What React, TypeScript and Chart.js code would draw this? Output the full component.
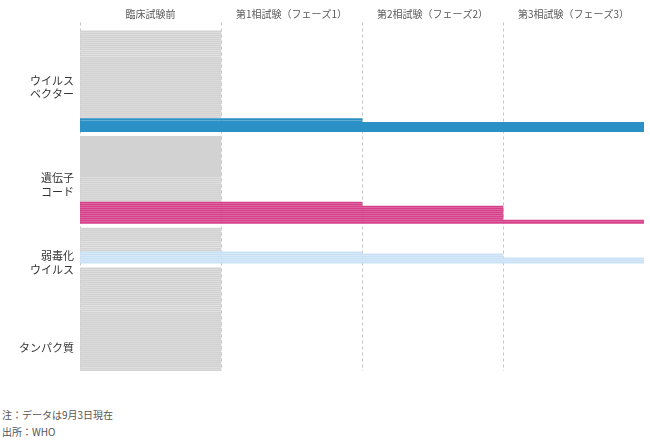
import React, { useEffect, useRef } from "react";
import { Chart, registerables } from "chart.js";

Chart.register(...registerables);

// ---- data ----
const sectionLabels: string[][] = [
  ["ウイルス", "ベクター"],
  ["遺伝子", "コード"],
  ["弱毒化", "ウイルス"],
  ["タンパク質"],
];
const preclinical = [44, 33, 12, 52];
const phase1 = [2, 2, 1, 0];
const phase2 = [0, 7, 2, 0];
const phase3 = [5, 2, 3, 0];
const stageLabels = [
  "臨床試験前",
  "第1相試験（フェーズ1）",
  "第2相試験（フェーズ2）",
  "第3相試験（フェーズ3）",
];
const notes = ["注：データは9月3日現在", "出所：WHO"];

// ---- layout / style ----
const FONT = "'Noto Sans CJK JP', 'Noto Sans', sans-serif";
const GREY = "#d2d2d2";
const sectionColors = ["#2b90c6", "#d6408a", "#c9e1f6", "#2b90c6"];
const TOP_BLANK = 4;
const GAP_ROWS = 2;
const labelRowInSection = [28, 24, 17, 40];

function buildRows() {
  const labels: (string | string[])[] = [];
  const values: (number | null)[] = [];
  const colors: string[] = [];
  const blank = () => {
    labels.push("");
    values.push(null);
    colors.push("rgba(0,0,0,0)");
  };
  for (let i = 0; i < TOP_BLANK; i++) blank();
  sectionLabels.forEach((lab, s) => {
    const start = labels.length;
    const push = (n: number, v: number, c: string) => {
      for (let k = 0; k < n; k++) {
        labels.push("");
        values.push(v);
        colors.push(c);
      }
    };
    push(preclinical[s], 1, GREY);
    push(phase1[s], 2, sectionColors[s]);
    push(phase2[s], 3, sectionColors[s]);
    push(phase3[s], 4, sectionColors[s]);
    labels[start + labelRowInSection[s]] = lab;
    if (s < sectionLabels.length - 1) for (let g = 0; g < GAP_ROWS; g++) blank();
  });
  return { labels, values, colors };
}

export default function App() {
  const ref = useRef<HTMLCanvasElement | null>(null);
  useEffect(() => {
    if (!ref.current) return;
    const { labels, values, colors } = buildRows();
    const chart = new Chart(ref.current, {
      type: "bar",
      data: {
        labels,
        datasets: [
          {
            data: values,
            backgroundColor: colors,
            borderWidth: 0,
            barThickness: 1.3,
            categoryPercentage: 1,
          },
        ],
      },
      options: {
        indexAxis: "y",
        animation: false,
        responsive: true,
        maintainAspectRatio: false,
        layout: { autoPadding: false, padding: { right: 6, bottom: 0.5, left: 0, top: 0 } },
        plugins: { legend: { display: false }, tooltip: { enabled: false } },
        scales: {
          x: {
            type: "linear",
            position: "top",
            min: 0,
            max: 4,
            afterBuildTicks: (s: any) => {
              s.ticks = [0.5, 1.5, 2.5, 3.5].map((value) => ({ value }));
            },
            afterFit: (s: any) => {
              s.height = 22.5;
            },
            ticks: {
              autoSkip: false,
              maxRotation: 0,
              padding: 2,
              color: "#595959",
              font: { family: FONT, size: 10 },
              callback: (_v: any, i: number) => stageLabels[i],
            },
            grid: { display: false, drawTicks: false },
            border: { display: false },
          },
          x2: {
            type: "linear",
            position: "bottom",
            min: 0,
            max: 4,
            afterBuildTicks: (s: any) => {
              s.ticks = [0, 1, 2, 3].map((value) => ({ value }));
            },
            afterFit: (s: any) => {
              s.height = 0;
            },
            ticks: { display: false },
            grid: { color: "#c4c4c4", drawTicks: false, lineWidth: 1 },
            border: { display: false, dash: [3, 3] },
          },
          y: {
            type: "category",
            afterFit: (s: any) => {
              s.width = 80;
            },
            ticks: {
              autoSkip: false,
              padding: 6,
              color: "#333333",
              font: { family: FONT, size: 11, lineHeight: 1.25 },
            },
            grid: { display: false, drawTicks: false },
            border: { display: false },
          },
        },
      } as any,
    });
    return () => chart.destroy();
  }, []);

  return (
    <div style={{ position: "absolute", left: 0, top: 0, width: 650, height: 441, background: "#fff" }}>
      <div style={{ position: "absolute", left: 0, top: 0, width: 650, height: 384 }}>
        <canvas ref={ref} />
      </div>
      {notes.map((n, i) => (
        <div
          key={i}
          style={{
            position: "absolute",
            left: 2,
            top: 408 + i * 17,
            fontFamily: FONT,
            fontSize: 10,
            lineHeight: "14px",
            color: "#555",
            whiteSpace: "nowrap",
          }}
        >
          {n}
        </div>
      ))}
    </div>
  );
}
